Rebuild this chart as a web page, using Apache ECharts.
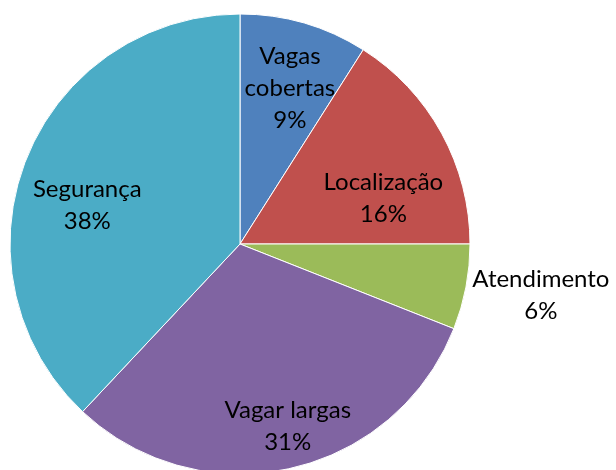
<!DOCTYPE html>
<html>
<head>
    <meta charset="UTF-8">
    <title>Pie</title>
    <script src="https://cdn.jsdelivr.net/npm/echarts@6/dist/echarts.min.js"></script>
    <style>
        html, body { margin: 0; padding: 0; background: #fff; }
    </style>
</head>
<body>
    <div id="main" style="width:616px;height:470px;"></div>
    <script type="text/javascript">
        // dados do gráfico
        var categorias = ['Vagas\ncobertas', 'Localização', 'Atendimento', 'Vagar largas', 'Segurança'];
        var valores = [9, 16, 6, 31, 38];
        var cores = ['#4F81BD', '#C0504D', '#9BBB59', '#8064A2', '#4BACC6'];

        // deslocamento dos rótulos (estilo, a partir da posição "inside")
        var desloc = [[17, -42], [40, 11], [185, 29], [22, 67], [-43, 5]];

        var myChart = echarts.init(document.getElementById('main'));

        var dados = categorias.map(function (c, i) {
            return { name: c, value: valores[i], itemStyle: { color: cores[i] } };
        });

        var option = {
            animation: false,
            series: [{
                type: 'pie',
                center: [240, 244],
                radius: [0, 230],
                startAngle: 90,
                clockwise: true,
                data: dados,
                itemStyle: { borderColor: '#fff', borderWidth: 1 },
                label: {
                    position: 'inside',
                    color: '#000',
                    fontFamily: 'Lato',
                    fontSize: 24,
                    lineHeight: 32,
                    align: 'center',
                    formatter: function (p) { return p.name + '\n' + p.value + '%'; }
                },
                labelLine: { show: false },
                labelLayout: function (p) {
                    var d = desloc[p.dataIndex];
                    return { dx: d[0], dy: d[1] };
                },
                emphasis: { disabled: true }
            }]
        };

        myChart.setOption(option);
    </script>
</body>
</html>
